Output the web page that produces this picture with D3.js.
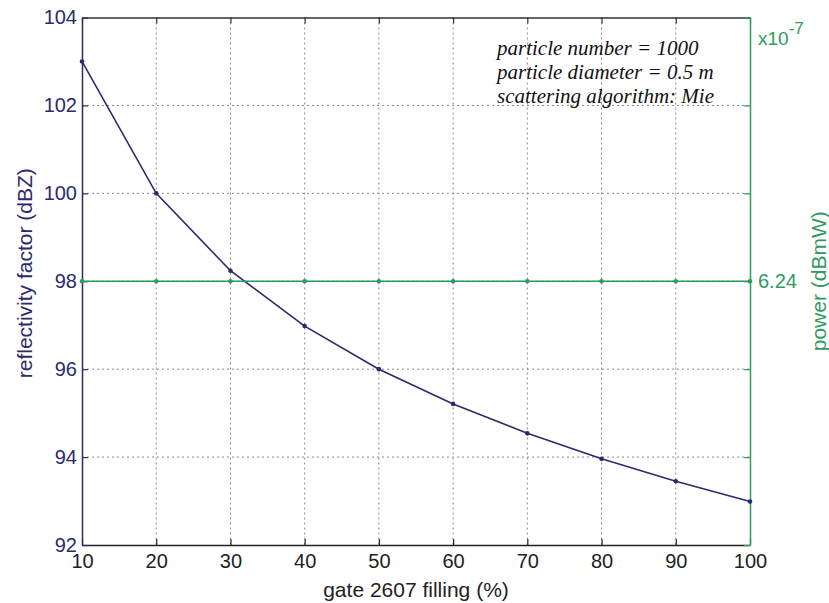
<!DOCTYPE html>
<html><head><meta charset="utf-8">
<script src="https://cdn.jsdelivr.net/npm/d3@7"></script>
<style>body{margin:0;background:#fff}svg{display:block}</style>
</head><body>
<svg id="c" width="829" height="603"></svg>
<script>
const filling = [10,20,30,40,50,60,70,80,90,100];
const reflectivity = [103.0,100.0,98.24,96.98,96.0,95.21,94.54,93.96,93.45,92.99];
const power = [6.24,6.24,6.24,6.24,6.24,6.24,6.24,6.24,6.24,6.24];
const xTicks = [10,20,30,40,50,60,70,80,90,100];
const yTicks = [92,94,96,98,100,102,104];
const powerTicks = [6.24];
const annotations = ["particle number = 1000","particle diameter = 0.5 m","scattering algorithm: Mie"];

const navy = "#2d2a6c", green = "#2e9b5f", ink = "#222";
const L = 82, R = 750, T = 17.5, B = 545;
const svg = d3.select("#c");
const x = d3.scaleLinear().domain([10,100]).range([L,R]);
const y = d3.scaleLinear().domain([92,104]).range([B,T]);
const y2 = d3.scaleLinear().domain([6.2,6.28]).range([B,T]);
const font = "'Liberation Sans', Arial, sans-serif";

// grid
const g = svg.append("g");
g.selectAll("line.gx").data(xTicks.filter(d=>d>10&&d<100)).enter().append("line")
  .attr("x1",d=>x(d)).attr("x2",d=>x(d)).attr("y1",T).attr("y2",B)
  .attr("stroke","#8a8a8a").attr("stroke-width",1).attr("stroke-dasharray","2,3");
g.selectAll("line.gy").data(yTicks.filter(d=>d>92&&d<104)).enter().append("line")
  .attr("x1",L).attr("x2",R).attr("y1",d=>y(d)).attr("y2",d=>y(d))
  .attr("stroke","#8a8a8a").attr("stroke-width",1).attr("stroke-dasharray","2,3");

// axes via d3
const xb = svg.append("g").attr("transform",`translate(0,${B})`)
  .call(d3.axisBottom(x).tickValues(xTicks).tickSizeInner(-6).tickSizeOuter(0).tickPadding(9));
xb.select(".domain").attr("stroke",ink).attr("stroke-width",1.5);
xb.selectAll(".tick line").attr("stroke",ink).attr("stroke-width",1.2);
xb.selectAll("text").attr("font-family",font).attr("font-size",20).attr("fill",ink);

const xt = svg.append("g").attr("transform",`translate(0,${T})`)
  .call(d3.axisTop(x).tickValues(xTicks).tickSizeInner(-6).tickSizeOuter(0).tickFormat(""));
xt.select(".domain").attr("stroke","#333").attr("stroke-width",1.5);
xt.selectAll(".tick line").attr("stroke","#333").attr("stroke-width",1.2);

const yl = svg.append("g").attr("transform",`translate(${L},0)`)
  .call(d3.axisLeft(y).tickValues(yTicks).tickSizeInner(-6).tickSizeOuter(0).tickPadding(5));
yl.select(".domain").attr("stroke",navy).attr("stroke-width",1.5);
yl.selectAll(".tick line").attr("stroke",navy).attr("stroke-width",1.2);
yl.selectAll("text").attr("font-family",font).attr("font-size",20).attr("fill",navy);

const yr = svg.append("g").attr("transform",`translate(${R},0)`)
  .call(d3.axisRight(y).tickValues(yTicks).tickSizeInner(-6).tickSizeOuter(0).tickFormat(""));
yr.select(".domain").attr("stroke",green).attr("stroke-width",1.5);
yr.selectAll(".tick line").attr("stroke",green).attr("stroke-width",1.2);

const yr2 = svg.append("g").attr("transform",`translate(${R},0)`)
  .call(d3.axisRight(y2).tickValues(powerTicks).tickSize(0).tickPadding(8).tickFormat(d3.format(".2f")));
yr2.select(".domain").remove();
yr2.selectAll("text").attr("font-family",font).attr("font-size",20).attr("fill",green);

// series
const lineN = d3.line().x((d,i)=>x(filling[i])).y(d=>y(d));
svg.append("path").datum(reflectivity).attr("d",lineN).attr("fill","none")
  .attr("stroke",navy).attr("stroke-width",1.6);
svg.selectAll("circle.n").data(reflectivity).enter().append("circle")
  .attr("cx",(d,i)=>x(filling[i])).attr("cy",d=>y(d)).attr("r",2.3).attr("fill",navy);

const lineG = d3.line().x((d,i)=>x(filling[i])).y(d=>y2(d));
svg.append("path").datum(power).attr("d",lineG).attr("fill","none")
  .attr("stroke",green).attr("stroke-width",1.6);
svg.selectAll("circle.g").data(power).enter().append("circle")
  .attr("cx",(d,i)=>x(filling[i])).attr("cy",d=>y2(d)).attr("r",2.3).attr("fill",green);

// titles
svg.append("text").attr("x",(L+R)/2).attr("y",597).attr("text-anchor","middle")
  .attr("font-family",font).attr("font-size",21).attr("fill",ink).text("gate 2607 filling (%)");
svg.append("text").attr("transform",`translate(32,${(T+B)/2-8}) rotate(-90)`).attr("text-anchor","middle")
  .attr("font-family",font).attr("font-size",21).attr("fill",navy).text("reflectivity factor (dBZ)");
svg.append("text").attr("transform",`translate(826,${(T+B)/2}) rotate(-90)`).attr("text-anchor","middle")
  .attr("font-family",font).attr("font-size",21).attr("fill",green).text("power (dBmW)");
const mult = svg.append("text").attr("x",758).attr("y",45).attr("font-family",font).attr("fill",green);
mult.append("tspan").attr("font-size",19).text("x10");
mult.append("tspan").attr("font-size",17).attr("dy",-11).text("-7");

// annotation
svg.append("g").selectAll("text").data(annotations).enter().append("text")
  .attr("x",497).attr("y",(d,i)=>55+i*24)
  .attr("font-family","'Liberation Serif','Times New Roman',serif").attr("font-style","italic")
  .attr("font-size",21).attr("fill","#111").text(d=>d);
</script>
</body></html>
